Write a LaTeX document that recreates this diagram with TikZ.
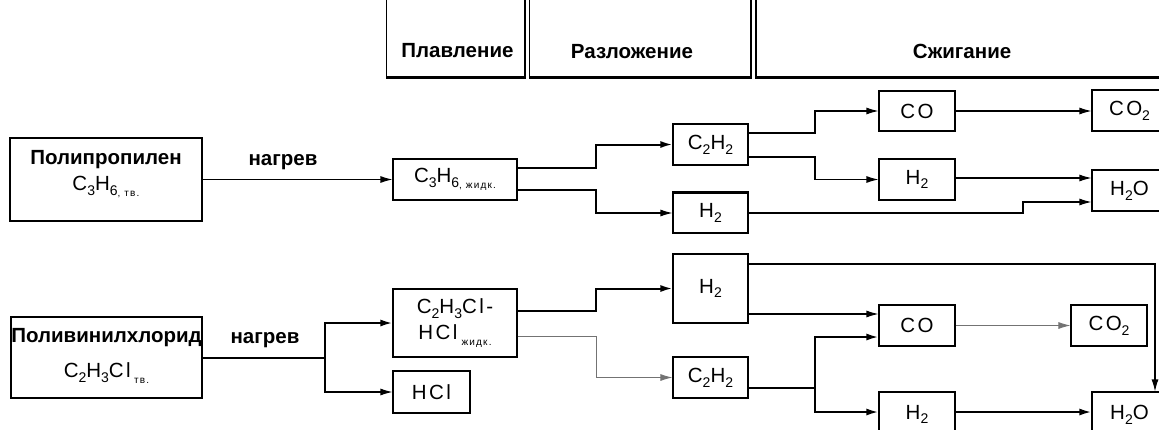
\documentclass[tikz,border=0pt]{standalone}
\usepackage{fontspec}
\setmainfont{Liberation Sans}
\newfontfamily\chemfont[LetterSpace=12]{Liberation Sans}
\usetikzlibrary{arrows.meta}

\newcommand\chsub[1]{\raisebox{-0.45ex}{\fontsize{14}{14}\selectfont #1}}
\newcommand\chidx[1]{\raisebox{-0.6ex}{\fontsize{10}{10}\selectfont #1}}

\begin{document}
\begin{tikzpicture}[x=1pt,y=-1pt,
  box/.style={draw,line width=1.1pt,inner sep=0pt,font=\fontsize{20.5}{22}\chemfont},
  head/.style={draw,line width=1.1pt,inner sep=0pt,minimum height=87pt},
  title/.style={font=\fontsize{20.5}{22}\selectfont\bfseries,inner sep=0pt},
  formula/.style={font=\fontsize{20.5}{22}\chemfont,inner sep=0pt},
  conn/.style={line width=1.1pt,-{Latex[length=12pt,width=7pt]}},
  thickconn/.style={conn,line width=2pt},
  paleconn/.style={conn,draw=black!55,line width=0.9pt}]
  \useasboundingbox (0,0) rectangle (1159,429);

  % stage headers
  \node[head,minimum width=138pt] (plav) at (455.5,33.5) {};
  \node[head,minimum width=221pt] (razl) at (640,33.5) {};
  \node[head,minimum width=410pt] (szhig) at (961,33.5) {};
  \foreach \h in {plav,razl,szhig}
    \draw[line width=2.4pt] (\h.north east) -- (\h.south east) -- (\h.south west);
  \node[title] (plavtxt) at (457.5,51) {Плавление};
  \node[title] (razltxt) at (632,52) {Разложение};
  \node[title] (szhigtxt) at (962,51) {Сжигание};

  % polypropylene
  \node[box,minimum width=192pt,minimum height=83pt] (pp) at (106,179.5) {};
  \node[title] (pptxt) at (106,160) {Полипропилен};
  \node[formula] (ppform) at (106,187) {C\chsub{3}H\chsub{6}\chidx{, тв.}};
  \node[box,minimum width=124pt,minimum height=41pt] (c3h6) at (455,179.5) {C\chsub{3}H\chsub{6}\chidx{, жидк.}};
  \node[box,minimum width=75pt,minimum height=41pt] (c2h2a) at (710.5,144.5) {C\chsub{2}H\chsub{2}};
  \node[box,minimum width=75pt,minimum height=40pt] (h2a) at (710.5,213) {H\chsub{2}};
  \node[box,minimum width=76pt,minimum height=40pt] (coa) at (917,111) {CO};
  \node[box,minimum width=76pt,minimum height=41pt] (h2b) at (917,179.5) {H\chsub{2}};
  \node[box,minimum width=75pt,minimum height=41pt] (co2a) at (1129.5,110.5) {CO\chsub{2}};
  \node[box,minimum width=75pt,minimum height=41pt] (h2oa) at (1129.5,190.5) {H\chsub{2}O};
  \draw[line width=2.2pt] (h2a.north west) -- (h2a.north east);

  \draw[conn] (pp) -- (c3h6);
  \node[title] (nagr1) at (283,162) {нагрев};
  \draw[thickconn] (c3h6.east |- 0,168) -- (596,168) |- (c2h2a.west);
  \draw[conn] (c3h6.east |- 0,190) -- (596,190) |- (h2a.west);
  \draw[conn] (c2h2a.east |- 0,133) -- (815,133) |- (coa.west);
  \draw[conn] (c2h2a.east |- 0,157) -- (815,157) |- (h2b.west);
  \draw[conn] (coa.east) -- (coa.east -| co2a.west);
  \draw[conn] (h2b.east |- 0,178) -- (h2oa.west |- 0,178);
  \draw[conn] (h2a.east) -- (1023,213) |- (h2oa.west |- 0,202);

  % polyvinyl chloride
  \node[box,minimum width=191pt,minimum height=81pt] (pvc) at (106.5,357.5) {};
  \node[title] (pvctxt) at (106.5,338) {Поливинилхлорид};
  \node[formula] (pvcform) at (106.5,373) {C\chsub{2}H\chsub{3}Cl\,\chidx{тв.}};
  \node[box,minimum width=124pt,minimum height=68pt,align=center] (c2h3cl) at (455,323)
    {C\chsub{2}H\chsub{3}Cl-\\[4pt]HCl\chidx{ жидк.}};
  \node[box,minimum width=77pt,minimum height=42pt] (hcl) at (431.5,392) {HCl};
  \node[box,minimum width=75pt,minimum height=69pt] (h2c) at (710.5,288.5) {H\chsub{2}};
  \node[box,minimum width=75pt,minimum height=41pt] (c2h2b) at (710.5,377.5) {C\chsub{2}H\chsub{2}};
  \node[box,minimum width=76pt,minimum height=41pt] (cob) at (917,325.5) {CO};
  \node[box,minimum width=76pt,minimum height=41pt] (co2b) at (1109,325.5) {CO\chsub{2}};
  \node[box,minimum width=76pt,minimum height=45pt] (h2d) at (917,414.5) {\raisebox{3pt}{H\chsub{2}}};
  \node[box,minimum width=75pt,minimum height=45pt] (h2ob) at (1129.5,414.5) {\raisebox{3pt}{H\chsub{2}O}};

  \coordinate (pvcsplit) at (325,357.5);
  \coordinate (c2h2split) at (815,388);
  \draw[thickconn] (pvc.east) -- (pvcsplit) |- (c2h3cl.west);
  \draw[conn] (pvcsplit) |- (hcl.west);
  \node[title] (nagr2) at (265,340) {нагрев};
  \draw[thickconn] (c2h3cl.east |- 0,311) -- (596,311) |- (h2c.west);
  \draw[paleconn] (c2h3cl.east |- 0,336) -- (596,336) |- (c2h2b.west);
  \draw[conn] (h2c.east |- 0,264) -| (h2ob.north -| 1155,0);
  \draw[conn] (h2c.east |- 0,314) -- (cob.west |- 0,314);
  \draw[thickconn] (c2h2b.east |- 0,388) -- (c2h2split) |- (cob.west |- 0,337);
  \draw[thickconn] (c2h2split) |- (h2d.west |- 0,412);
  \draw[paleconn] (cob.east) -- (co2b.west);
  \draw[thickconn] (h2d.east |- 0,412) -- (h2ob.west |- 0,412);
\end{tikzpicture}
\end{document}
